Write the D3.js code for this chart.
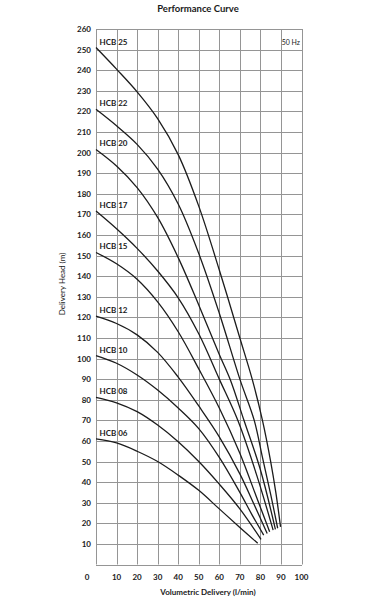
<!DOCTYPE html>
<html>
<head>
<meta charset="utf-8">
<script src="https://cdn.jsdelivr.net/npm/d3@7"></script>
<style>
  html, body { margin: 0; padding: 0; background: #fff; }
  svg { display: block; font-family: Lato, "Open Sans", sans-serif; }
</style>
</head>
<body>
<svg id="chart" width="377" height="600"></svg>
<script>
// Kurvnamn och pumpkurvor (flöde l/min, uppfordringshöjd m)
const pumpNames = ["HCB 25", "HCB 22", "HCB 20", "HCB 17", "HCB 15", "HCB 12", "HCB 10", "HCB 08", "HCB 06"];

const hcb25 = [[0, 251], [10, 240.5], [20, 229.5], [30, 216.5], [40, 199], [50, 174], [60, 143], [70, 110], [76, 90], [81, 70], [85, 50], [87.5, 35], [89.8, 18.3]];
const hcb22 = [[0, 221], [10, 213], [20, 204], [30, 192], [40, 175], [50, 151], [60, 122], [70, 90], [77, 70], [81, 52], [85, 34], [88.4, 17.6]];
const hcb20 = [[0, 201.5], [10, 193.5], [20, 183], [30, 168.5], [40, 149], [50, 126], [60, 102], [65.4, 89.6], [72, 70], [80, 46], [87.3, 17.1]];
const hcb17 = [[0, 171.6], [10, 163], [20, 153.5], [30, 142.5], [40, 129.5], [50, 112], [60, 90], [69, 70], [78, 44], [86.2, 16.7]];
const hcb15 = [[0, 151.5], [10, 146], [20, 138.5], [30, 127.5], [40, 113], [50, 95], [60, 76], [70, 54], [78, 33], [84.5, 15.9]];
const hcb12 = [[0, 120.6], [10, 117], [20, 111.5], [30, 103], [40, 91], [50, 77], [60, 62], [70, 44], [77, 29], [83.3, 15.1]];
const hcb10 = [[0, 101.4], [10, 97.7], [20, 92], [30, 84.7], [40, 76], [50, 66], [60, 52], [70, 35], [76, 24], [81.6, 14.3]];
const hcb08 = [[0, 81.2], [10, 78.5], [20, 74.2], [30, 67.7], [40, 59.6], [50, 50], [60, 39], [70, 27], [80.3, 12.2]];
const hcb06 = [[0, 61], [10, 59], [20, 55], [30, 50], [40, 43.4], [50, 36], [60, 27], [70, 18], [78.7, 10.3]];

const curves = [hcb25, hcb22, hcb20, hcb17, hcb15, hcb12, hcb10, hcb08, hcb06];

const xTicks = [0, 10, 20, 30, 40, 50, 60, 70, 80, 90, 100];
const yTicks = [10, 20, 30, 40, 50, 60, 70, 80, 90, 100, 110, 120, 130, 140, 150, 160, 170, 180, 190, 200, 210, 220, 230, 240, 250, 260];

const chartTitle = "Performance Curve";
const xTitle = "Volumetric Delivery (l/min)";
const yTitle = "Delivery Head (m)";
const freqNote = "50 Hz";

// Layout
const W = 377, H = 600;
const plot = { left: 96, right: 301.5, top: 29, bottom: 564.5 };
const gridColor = "#959595";
const textColor = "#1a1a1a";

const svg = d3.select("#chart").attr("viewBox", `0 0 ${W} ${H}`);

const x = d3.scaleLinear().domain([0, 100]).range([plot.left, plot.right]);
const y = d3.scaleLinear().domain([0, 260]).range([plot.bottom, plot.top]);

const gGrid = svg.append("g").attr("class", "grid");
const gCurves = svg.append("g").attr("class", "curves");
const gText = svg.append("g").attr("class", "labels");

// Rutnät
gGrid.selectAll("line.v")
  .data(xTicks)
  .join("line")
  .attr("class", "v")
  .attr("x1", d => Math.round(x(d)) + 0.5)
  .attr("x2", d => Math.round(x(d)) + 0.5)
  .attr("y1", plot.top)
  .attr("y2", plot.bottom)
  .attr("stroke", gridColor)
  .attr("stroke-width", 1);

gGrid.selectAll("line.h")
  .data([0].concat(yTicks))
  .join("line")
  .attr("class", "h")
  .attr("x1", plot.left)
  .attr("x2", plot.right + 0.5)
  .attr("y1", d => Math.round(y(d)) + 0.5)
  .attr("y2", d => Math.round(y(d)) + 0.5)
  .attr("stroke", gridColor)
  .attr("stroke-width", 1);

// Kurvor – Catmull-Rom ger mjukare övergångar än monoton spline
const line = d3.line()
  .x(d => x(d[0]))
  .y(d => y(d[1]))
  .curve(d3.curveCatmullRom.alpha(0.5));

gCurves.selectAll("path")
  .data(curves)
  .join("path")
  .attr("d", line)
  .attr("fill", "none")
  .attr("stroke", "#1c1c1c")
  .attr("stroke-width", 1.3);

// Kurvetiketter
gText.selectAll("text.curve-label")
  .data(curves)
  .join("text")
  .attr("class", "curve-label")
  .attr("x", plot.left + 3.5)
  .attr("y", d => y(d[0][1]) - 3)
  .attr("font-size", 8)
  .attr("font-weight", 700)
  .attr("fill", textColor)
  .text((d, i) => pumpNames[i]);

// Y-axelns etiketter
gText.selectAll("text.ytick")
  .data(yTicks)
  .join("text")
  .attr("class", "ytick")
  .attr("x", plot.left - 5)
  .attr("y", d => y(d) + 3)
  .attr("text-anchor", "end")
  .attr("font-size", 8)
  .attr("font-weight", 700)
  .attr("fill", textColor)
  .text(d => d);

// X-axelns etiketter (nollan sitter till vänster om axeln)
gText.selectAll("text.xtick")
  .data(xTicks)
  .join("text")
  .attr("class", "xtick")
  .attr("x", d => d === 0 ? x(d) - 9 : x(d))
  .attr("y", 580)
  .attr("text-anchor", "middle")
  .attr("font-size", 8)
  .attr("font-weight", 700)
  .attr("fill", textColor)
  .text(d => d);

// Titlar
svg.append("text")
  .attr("x", 198)
  .attr("y", 11.5)
  .attr("text-anchor", "middle")
  .attr("font-size", 9.5)
  .attr("font-weight", 700)
  .attr("fill", textColor)
  .text(chartTitle);

svg.append("text")
  .attr("x", 208)
  .attr("y", 595)
  .attr("text-anchor", "middle")
  .attr("font-size", 8)
  .attr("font-weight", 700)
  .attr("fill", textColor)
  .text(xTitle);

svg.append("text")
  .attr("transform", `translate(65, 284) rotate(-90)`)
  .attr("text-anchor", "middle")
  .attr("font-size", 8)
  .attr("fill", textColor)
  .text(yTitle);

svg.append("text")
  .attr("x", plot.right - 1.5)
  .attr("y", 45)
  .attr("text-anchor", "end")
  .attr("font-size", 7)
  .attr("fill", textColor)
  .text(freqNote);
</script>
</body>
</html>
